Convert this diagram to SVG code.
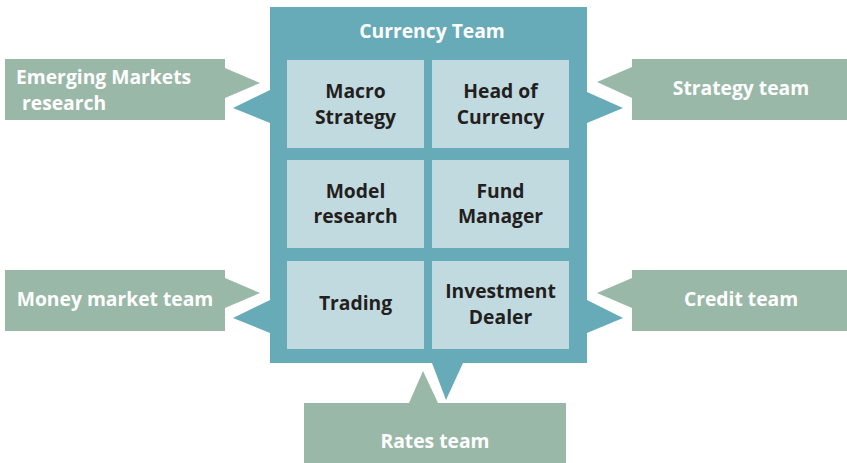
<svg xmlns="http://www.w3.org/2000/svg" width="847" height="463" viewBox="0 0 847 463">
<style>
.teal{fill:#68abb8}
.cell{fill:#c1dadf}
.green{fill:#9ab8a8}
.t{font-family:"Open Sans","Noto Sans","Liberation Sans",sans-serif;font-weight:700;font-size:19.3px}
.w{fill:#ffffff}
.d{fill:#231f20}
.c{text-anchor:middle}
</style>
<rect width="847" height="463" fill="#ffffff"/>
<g id="currency-team">
<rect class="teal" x="270" y="7" width="317" height="356"/>
<text class="t w c" x="432" y="38">Currency Team</text>
</g>
<g id="macro-strategy">
<rect class="cell" x="287" y="60" width="137" height="88"/>
<text class="t d c" x="355.5" y="98">Macro</text>
<text class="t d c" x="355.5" y="124">Strategy</text>
</g>
<g id="head-of-currency">
<rect class="cell" x="432" y="60" width="137" height="88"/>
<text class="t d c" x="500.5" y="98">Head of</text>
<text class="t d c" x="500.5" y="124">Currency</text>
</g>
<g id="model-research">
<rect class="cell" x="287" y="160" width="137" height="88"/>
<text class="t d c" x="355.5" y="198">Model</text>
<text class="t d c" x="355.5" y="223">research</text>
</g>
<g id="fund-manager">
<rect class="cell" x="432" y="160" width="137" height="88"/>
<text class="t d c" x="500.5" y="198">Fund</text>
<text class="t d c" x="500.5" y="223">Manager</text>
</g>
<g id="trading">
<rect class="cell" x="287" y="261" width="137" height="88"/>
<text class="t d c" x="355.5" y="310">Trading</text>
</g>
<g id="investment-dealer">
<rect class="cell" x="432" y="261" width="137" height="88"/>
<text class="t d c" x="500.5" y="298">Investment</text>
<text class="t d c" x="500.5" y="324">Dealer</text>
</g>
<g id="emerging-markets-research">
<rect class="green" x="5" y="59" width="220" height="61"/>
<text class="t w" x="16" y="84">Emerging Markets</text>
<text class="t w" x="22" y="110">research</text>
</g>
<g id="strategy-team">
<rect class="green" x="632" y="59" width="215" height="61"/>
<text class="t w c" x="741" y="95">Strategy team</text>
</g>
<g id="money-market-team">
<rect class="green" x="5" y="270" width="220" height="61"/>
<text class="t w c" x="115" y="306">Money market team</text>
</g>
<g id="credit-team">
<rect class="green" x="632" y="270" width="215" height="61"/>
<text class="t w c" x="741" y="306">Credit team</text>
</g>
<g id="rates-team">
<rect class="green" x="304" y="403" width="262" height="60"/>
<text class="t w c" x="435" y="448">Rates team</text>
</g>
<g id="connectors">
<polygon class="green" points="225,68 260,83 225,98"/>
<polygon class="teal" points="270,90 233,108 270,123"/>
<polygon class="green" points="632,67 597,82 632,98"/>
<polygon class="teal" points="587,92 623,108 587,123"/>
<polygon class="green" points="225,278 260,293 225,308"/>
<polygon class="teal" points="270,300 233,318 270,333"/>
<polygon class="green" points="632,278 597,293 632,308"/>
<polygon class="teal" points="587,300 623,318 587,333"/>
<polygon class="teal" points="432,363 446,400 463,363"/>
<polygon class="green" points="409,403 423,371 438,403"/>
</g>
</svg>
